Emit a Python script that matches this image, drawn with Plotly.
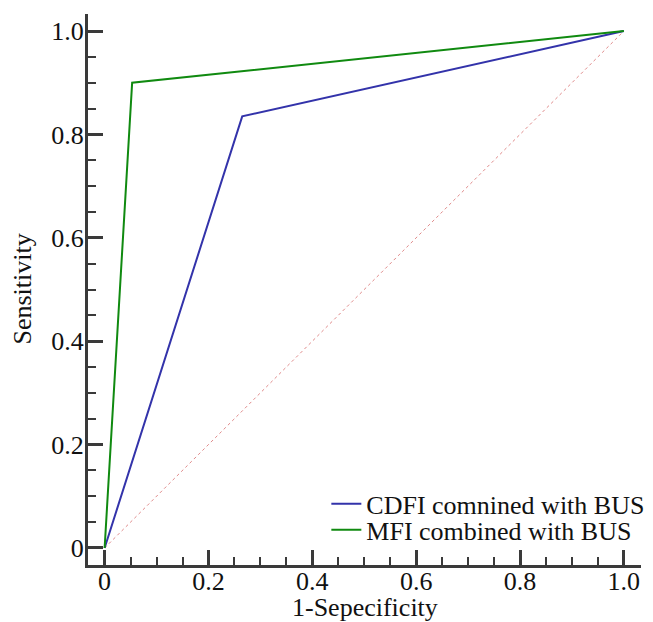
import plotly.graph_objects as go

cdfi_x = [0, 0.265, 1]
cdfi_y = [0, 0.835, 1]
mfi_x = [0, 0.053, 1]
mfi_y = [0, 0.90, 1]
ref_x = [0, 1]
ref_y = [0, 1]
tick_vals = [0, 0.2, 0.4, 0.6, 0.8, 1.0]
tick_text = ["0", "0.2", "0.4", "0.6", "0.8", "1.0"]
x_title = "1-Sepecificity"
y_title = "Sensitivity"

font = "Liberation Serif"

fig = go.Figure()
fig.add_trace(go.Scatter(x=ref_x, y=ref_y, mode="lines", showlegend=False,
                         line=dict(color="#e08a8a", width=1, dash="dot")))
fig.add_trace(go.Scatter(x=cdfi_x, y=cdfi_y, mode="lines", name="CDFI comnined with BUS",
                         line=dict(color="#3333aa", width=2), legend="legend"))
fig.add_trace(go.Scatter(x=mfi_x, y=mfi_y, mode="lines", name="MFI combined with BUS",
                         line=dict(color="#108a10", width=2), legend="legend2"))

axis_common = dict(
    showline=True, linecolor="#3a3a3a", linewidth=3, mirror=False,
    ticks="inside", ticklen=15, tickwidth=2.5, tickcolor="#3a3a3a",
    showgrid=False, zeroline=False, automargin=False,
    tickvals=tick_vals, ticktext=tick_text,
    tickfont=dict(family=font, size=26, color="#111"),
    minor=dict(ticks="inside", ticklen=8, tickwidth=2, tickcolor="#3a3a3a",
               dtick=0.05, showgrid=False),
)

leg_common = dict(xanchor="left", yanchor="middle", bgcolor="rgba(0,0,0,0)",
                  font=dict(family=font, size=26, color="#111"), itemwidth=30)

fig.update_layout(
    width=653, height=622,
    margin=dict(l=80, r=20, t=6, b=65, autoexpand=False),
    plot_bgcolor="white", paper_bgcolor="white",
    font=dict(family=font, size=26, color="#111"),
    xaxis=dict(range=[-0.032, 1.033], ticklabelstandoff=-9, **axis_common),
    yaxis=dict(range=[-0.033, 1.033], ticklabelstandoff=-4, **axis_common),
    legend=dict(x=0.431, y=0.111, **leg_common),
    legend2=dict(x=0.431, y=0.064, **leg_common),
    annotations=[
        dict(text=x_title, xref="paper", yref="paper", x=0.5, y=0, xanchor="center",
             yanchor="middle", yshift=-42, showarrow=False,
             font=dict(family=font, size=26, color="#111")),
        dict(text=y_title, xref="paper", yref="paper", x=0, y=0.5, xanchor="center",
             yanchor="middle", xshift=-66, textangle=-90, showarrow=False,
             font=dict(family=font, size=26, color="#111")),
    ],
)

fig.write_html("out.html")
